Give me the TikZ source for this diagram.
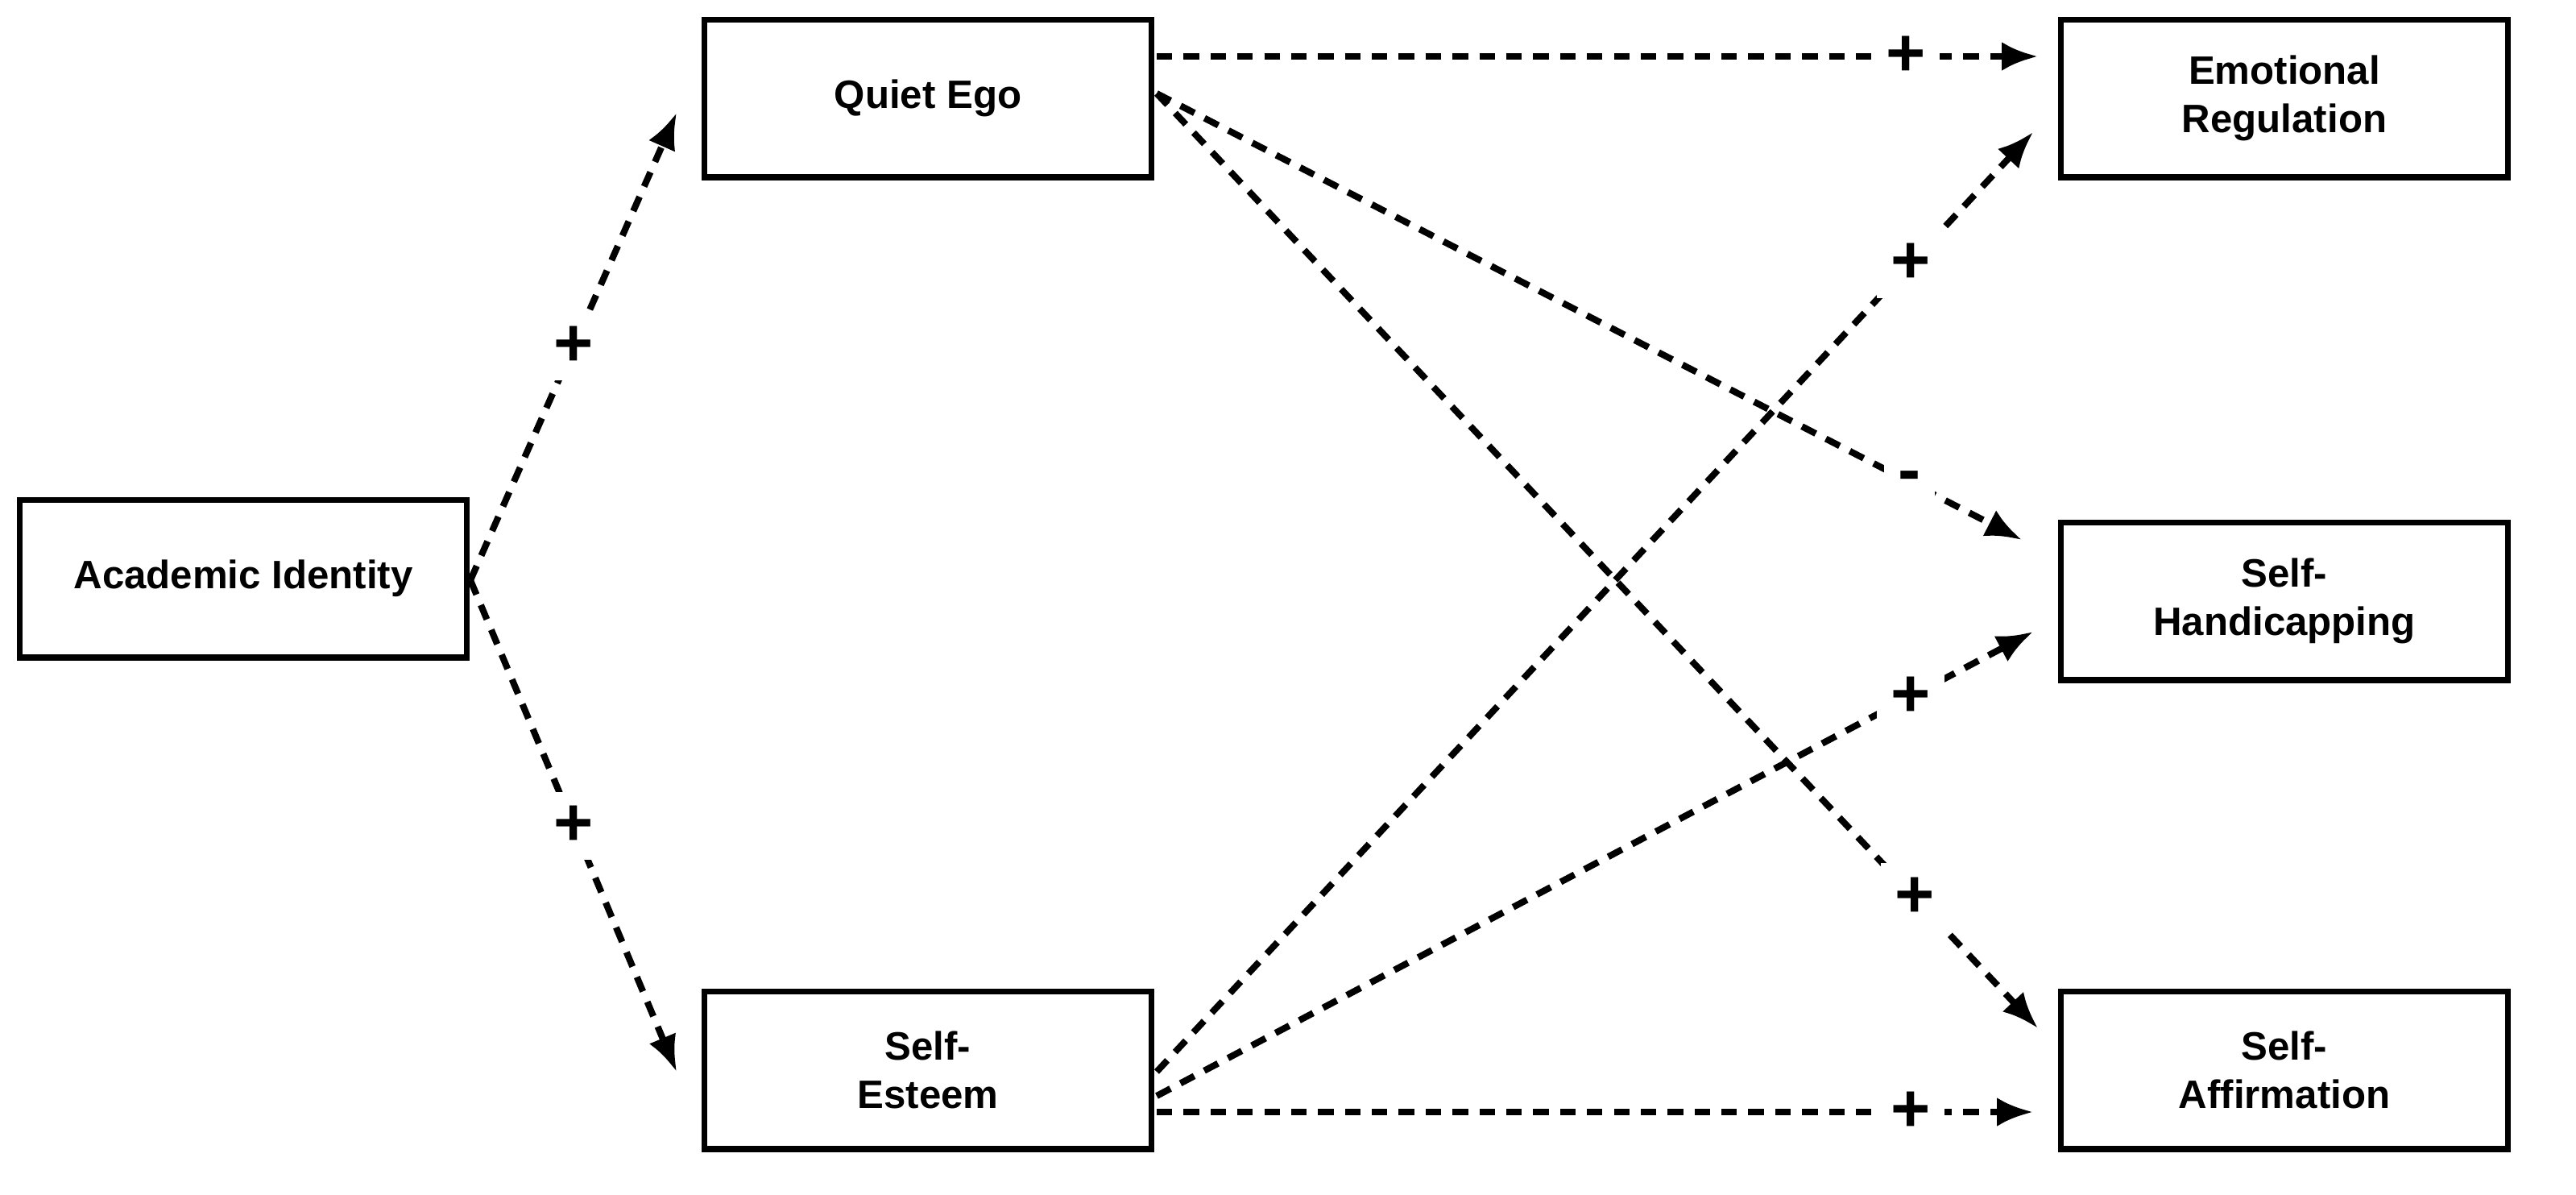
\documentclass[tikz,border=0pt]{standalone}
\usepackage{fontspec}
\setmainfont{Liberation Sans}
\usetikzlibrary{arrows.meta}
\begin{document}
\begin{tikzpicture}[x=0.02cm,y=-0.02cm,
  box/.style={draw,line width=2pt,minimum width=5.56cm,minimum height=1.96cm,align=center,font=\bfseries\fontsize{14}{17}\selectfont,inner sep=0},
  conn/.style={line width=2.3pt,dash pattern=on 5.5pt off 4pt,-{Latex[length=0.45cm,width=0.36cm]}},
  lab/.style={fill=white,inner sep=5pt,font=\bfseries\fontsize{24}{24}\selectfont}]
\useasboundingbox (0,0) rectangle (1599,741);
\node[box] (ai) at (151,359) {Academic Identity};
\node[box] (qe) at (576,61) {Quiet Ego};
\node[box] (se) at (576,664) {Self-\\Esteem};
\node[box] (er) at (1418,61) {Emotional\\Regulation};
\node[box] (sh) at (1418,373) {Self-\\Handicapping};
\node[box] (sa) at (1418,664) {Self-\\Affirmation};
\coordinate (a0) at (292,360);
\coordinate (q1) at (718,35); \coordinate (q2) at (718,58);
\coordinate (s1) at (718,665); \coordinate (s2) at (718,680); \coordinate (s3) at (718,690);
\coordinate (e1) at (1265,35); \coordinate (e2) at (1262,82);
\coordinate (h1) at (1255,335); \coordinate (h2) at (1262,392);
\coordinate (f1) at (1265,638); \coordinate (f2) at (1262,690);
\draw[conn] (a0) -- node[lab,pos=0.5] (l1) {+} (420,70);
\draw[conn] (a0) -- node[lab,pos=0.5] (l2) {+} (420,665);
\draw[conn] (q1) -- node[lab,pos=0.85] (l3) {+} (e1);
\draw[conn] (q2) -- node[lab,pos=0.87] (l4) {-} (h1);
\draw[conn] (q2) -- node[lab,pos=0.86] (l5) {+} (f1);
\draw[conn] (s1) -- node[lab,pos=0.86] (l6) {+} (e2);
\draw[conn] (s2) -- node[lab,pos=0.86] (l7) {+} (h2);
\draw[conn] (s3) -- node[lab,pos=0.86] (l8) {+} (f2);
\end{tikzpicture}
\end{document}
